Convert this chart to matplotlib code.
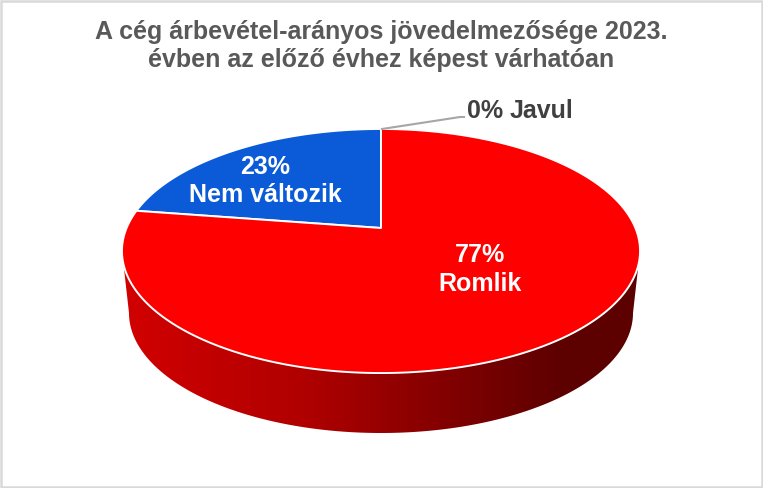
import matplotlib
matplotlib.use('Agg')
import matplotlib.pyplot as plt
import numpy as np
from matplotlib.colors import LinearSegmentedColormap
from matplotlib.patches import Polygon, Rectangle

plt.rcParams['font.family'] = ['Liberation Sans', 'DejaVu Sans']

title = 'A cég árbevétel-arányos jövedelmezősége 2023.\névben az előző évhez képest várhatóan'
categories = ['Javul', 'Nem változik', 'Romlik']
# shares, the labels show them rounded
values = [0, 22.6, 77.4]
colors = ['#7f7f7f', '#0b5bd8', '#ff0000']

# apex of the tilted pie, in pixels
cx, cy = 381, 228
A, B, K = 254.4, 117.7, 0.1885


def project(turn):
    # turn = fraction of the circle counted anticlockwise from 12 o'clock
    a = 2 * np.pi * np.asarray(turn)
    x, y = -np.sin(a), np.cos(a)
    w = 1 + K * y
    return cx + A * x / w, cy - B * y / w


fig = plt.figure(figsize=(7.63, 4.88), dpi=100)
ax = fig.add_axes([0, 0, 1, 1])
ax.set_xlim(0, 763)
ax.set_ylim(488, 0)
ax.axis('off')

# side wall: gradient clipped to the outline, top face is painted over it
side_cmap = LinearSegmentedColormap.from_list(
    'side', [(0, '#d20000'), (0.35, '#b00000'), (0.75, '#6e0000'), (0.86, '#5c0000'), (1, '#5c0000')])
t = np.linspace(np.pi, 0, 200)
low_x = 381 + 252 * np.cos(t)
low_y = 313 + 120 * np.sin(t)
outline = np.column_stack([np.r_[122, low_x, 640], np.r_[251, low_y, 251]])
im = ax.imshow(np.linspace(0, 1, 256)[None, :], cmap=side_cmap, extent=[122, 640, 440, 245],
               aspect='auto', zorder=1)
clip = Polygon(outline, closed=True, transform=ax.transData, fc='none', ec='none')
ax.add_patch(clip)
im.set_clip_path(clip)
ax.set_xlim(0, 763)
ax.set_ylim(488, 0)

# top face
start = 0
for name, val, col in zip(categories, values, colors):
    if val > 0:
        turns = np.linspace(start, start + val / sum(values), 400)
        px, py = project(turns)
        ax.fill(np.r_[cx, px], np.r_[cy, py], fc=col, ec='white', lw=1.4, zorder=2, joinstyle='round')
    start += val / sum(values)

# leader line of the empty slice
ax.plot([382, 460, 464], [129, 117, 117], color='#a6a6a6', lw=1.5, zorder=3)

ax.text(381.5, 46, title, ha='center', va='center', fontsize=18, fontweight='bold',
        color='#595959', linespacing=1.17, zorder=4)
ax.text(467, 111, f'{round(values[0])}%', ha='left', va='center', fontsize=18,
        fontweight='bold', color='#404040', zorder=4)
ax.text(510, 111, categories[0], ha='left', va='center', fontsize=18,
        fontweight='bold', color='#404040', zorder=4)
ax.text(265, 181, f'{round(values[1])}%\n{categories[1]}', ha='center', va='center', fontsize=18,
        fontweight='bold', color='white', linespacing=1.2, zorder=4)
ax.text(480, 269.5, f'{round(values[2])}%\n{categories[2]}', ha='center', va='center', fontsize=18,
        fontweight='bold', color='white', linespacing=1.25, zorder=4)

# chart frame
ax.add_patch(Rectangle((1, 1), 761, 486, fc='none', ec='#d9d9d9', lw=1.8, zorder=5))

fig.savefig('out.png', dpi=100)
